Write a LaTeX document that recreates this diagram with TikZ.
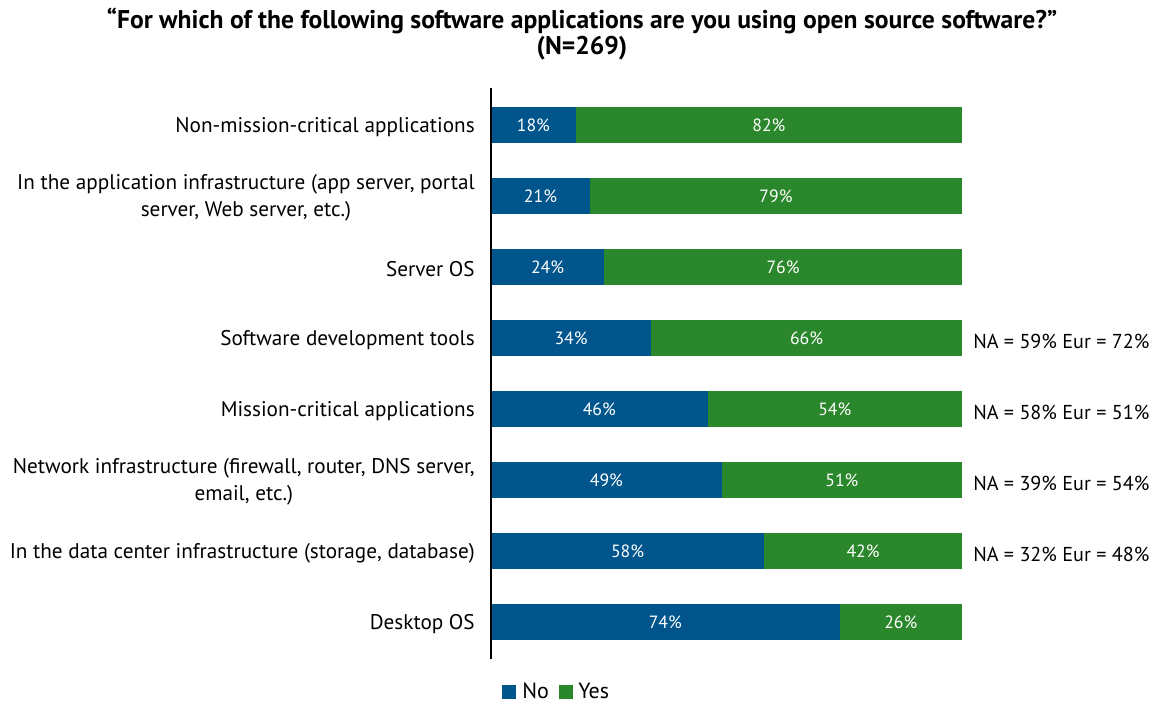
\documentclass[tikz,border=0pt]{standalone}
\usepackage{fontspec}
\setmainfont{PT Sans}
\definecolor{nob}{RGB}{0,85,140}
\definecolor{yesg}{RGB}{43,135,43}
\begin{document}
\begin{tikzpicture}[x=0.75pt,y=-0.75pt,
  barlab/.style={font=\fontsize{15.9}{20}\selectfont, align=center, anchor=east, inner sep=0pt},
  seg/.style={minimum height=27pt, inner sep=0pt, outer sep=0pt, anchor=west, text=white, font=\fontsize{13.3}{15}\selectfont},
  nobar/.style={seg, fill=nob},
  yesbar/.style={seg, fill=yesg},
  note/.style={font=\fontsize{15.1}{18}\selectfont, anchor=west, inner sep=0pt},
  legsq/.style={fill=#1, minimum size=10.5pt, inner sep=0pt, anchor=west},
  legtxt/.style={font=\fontsize{16.5}{19}\selectfont, anchor=west, inner sep=0pt}]
\useasboundingbox (0,0) rectangle (1163,704);
\node[font=\bfseries\fontsize{19.2}{20}\selectfont, align=center] (title) at (582,34)
  {“For which of the following software applications are you using open source software?”\\(N=269)};
\foreach \i/\no/\lab in {1/18/{Non-mission-critical applications},
  2/21/{In the application infrastructure (app server, portal\\server, Web server, etc.)},
  3/24/{Server OS},
  4/34/{Software development tools},
  5/46/{Mission-critical applications},
  6/49/{Network infrastructure (firewall, router, DNS server,\\email, etc.)},
  7/58/{In the data center infrastructure (storage, database)},
  8/74/{Desktop OS}} {
  \pgfmathsetmacro{\yy}{125+71*(\i-1)}
  \pgfmathsetmacro{\yl}{127+71*(\i-1)}
  \pgfmathsetmacro{\wn}{4.71*\no*0.75}
  \pgfmathtruncatemacro{\ye}{100-\no}
  \pgfmathsetmacro{\wy}{4.71*(100-\no)*0.75}
  \node[nobar, minimum width=\wn pt] (no\i) at (491,\yy) {\no\%};
  \node[yesbar, minimum width=\wy pt] (yes\i) at (no\i.east) {\ye\%};
  \node[barlab] (lab\i) at (475,\yl) {\lab};
}
\node[note] (n4) at (973,341) {NA = 59\% Eur = 72\%};
\node[note] (n5) at (973,412) {NA = 58\% Eur = 51\%};
\node[note] (n6) at (973,483) {NA = 39\% Eur = 54\%};
\node[note] (n7) at (973,554) {NA = 32\% Eur = 48\%};
\coordinate (axtop) at (491,88);
\coordinate (axbot) at (491,659);
\draw[line width=1.1pt] (axtop) -- (axbot);
\node[legsq=nob] (sqno) at (502,692) {};
\node[legtxt] (tno) at (522,691) {No};
\node[legsq=yesg] (sqyes) at (559,692) {};
\node[legtxt] (tyes) at (578,691) {Yes};
\end{tikzpicture}
\end{document}
